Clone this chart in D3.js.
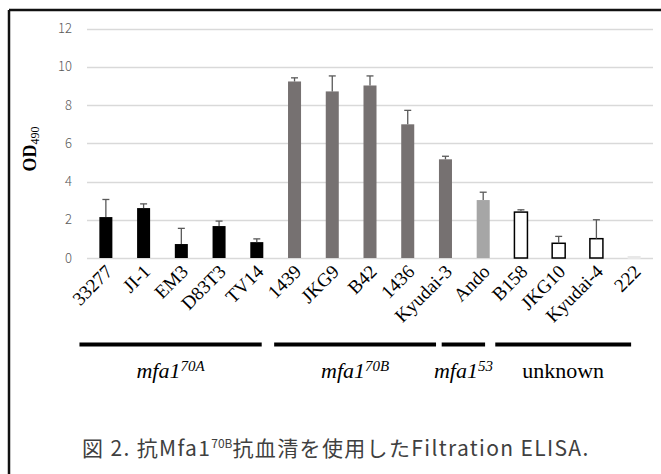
<!DOCTYPE html>
<html>
<head>
<meta charset="utf-8">
<title>Filtration ELISA</title>
<script src="https://d3js.org/d3.v7.min.js"></script>
<style>
  body { margin: 0; background: white; }
  svg { display: block; }
</style>
</head>
<body>
<div id="chart"></div>
<script>
// strains and readings (OD490)
var strains = ["33277", "JI-1", "EM3", "D83T3", "TV14", "1439", "JKG9", "B42", "1436",
               "Kyudai-3", "Ando", "B158", "JKG10", "Kyudai-4", "222"];
var odMean = [2.14, 2.61, 0.73, 1.67, 0.83, 9.23, 8.71, 9.02, 6.99, 5.16, 3.03, 2.40, 0.77, 1.01, 0.03];
var odErr  = [0.92, 0.22, 0.82, 0.26, 0.17, 0.19, 0.81, 0.50, 0.73, 0.16, 0.41, 0.12, 0.36, 0.99, 0];
var genotype = ["70A", "70A", "70A", "70A", "70A", "70B", "70B", "70B", "70B", "70B",
                "53", "unk", "unk", "unk", "unk"];
var yTicks = [0, 2, 4, 6, 8, 10, 12];

// genotype brackets under the labels, in category units
var groupLabel = ["70A", "70B", "53", "unknown"];
var groupStart = [-0.2, 4.96, 9.4, 10.82];
var groupEnd   = [4.63, 9.25, 10.55, 14.42];

var W = 661, H = 474;
var svg = d3.select("#chart").append("svg").attr("width", W).attr("height", H);

// frame
svg.append("line").attr("x1", 9).attr("x2", W).attr("y1", 10).attr("y2", 10)
   .attr("stroke", "#111").attr("stroke-width", 2.5);
svg.append("line").attr("x1", 9).attr("x2", 9).attr("y1", 10).attr("y2", H)
   .attr("stroke", "#111").attr("stroke-width", 2.5);

var x = d3.scaleBand().domain(strains).range([87, 653]).paddingInner(0.655).paddingOuter(0.3275);
var y = d3.scaleLinear().domain([0, 12]).range([258, 28.5]);
var xi = d3.scaleLinear().domain([0, strains.length]).range([87, 653]);

// gridlines + tick labels
svg.append("g").selectAll("line").data(yTicks).enter().append("line")
   .attr("x1", 87).attr("x2", 653)
   .attr("y1", function(d){ return Math.round(y(d)) + 0.5; })
   .attr("y2", function(d){ return Math.round(y(d)) + 0.5; })
   .attr("stroke", "#d9d9d9").attr("stroke-width", 1.3);
svg.append("g").selectAll("text").data(yTicks).enter().append("text")
   .attr("x", 72).attr("y", function(d){ return y(d); })
   .attr("dy", "0.35em").attr("text-anchor", "end")
   .attr("font-family", "'Noto Sans CJK JP', 'Noto Sans', sans-serif")
   .attr("font-size", 13).attr("fill", "#595959").attr("font-weight", 300)
   .text(function(d){ return d; });

var fillOf = { "70A": "#000000", "70B": "#767171", "53": "#a6a6a6", "unk": "#ffffff" };

// bars
svg.append("g").selectAll("rect").data(strains).enter().append("rect")
   .attr("x", function(d){ return x(d); })
   .attr("width", x.bandwidth())
   .attr("y", function(d, i){ return y(odMean[i]); })
   .attr("height", function(d, i){ return y(0) - y(odMean[i]); })
   .attr("fill", function(d, i){ return fillOf[genotype[i]]; })
   .attr("stroke", function(d, i){ return genotype[i] == "unk" && odMean[i] > 0.1 ? "#000" : "none"; })
   .attr("stroke-width", 1.5);
// the near-zero bar shows up as a faint smudge
svg.append("g").selectAll("rect").data(strains.filter(function(d, i){ return odMean[i] <= 0.1; }))
   .enter().append("rect")
   .attr("x", function(d){ return x(d); }).attr("width", x.bandwidth())
   .attr("y", y(0) - 2).attr("height", 3).attr("fill", "#e8e8e8");

// error bars (upper only)
var eb = svg.append("g").attr("stroke", "#595959").attr("stroke-width", 1.3);
strains.forEach(function(s, i){
   if (!odErr[i]) return;
   var cx = x(s) + x.bandwidth() / 2;
   eb.append("line").attr("x1", cx).attr("x2", cx)
     .attr("y1", y(odMean[i])).attr("y2", y(odMean[i] + odErr[i]));
   eb.append("line").attr("x1", cx - 3.5).attr("x2", cx + 3.5)
     .attr("y1", y(odMean[i] + odErr[i])).attr("y2", y(odMean[i] + odErr[i]));
});

// rotated category labels
svg.append("g").selectAll("text").data(strains).enter().append("text")
   .attr("transform", function(d){
      return "translate(" + (x(d) + x.bandwidth() / 2 - 1) + ",264) rotate(-45)";
   })
   .attr("text-anchor", "end").attr("dy", "0.66em")
   .attr("font-family", "'Liberation Serif', 'Times New Roman', serif")
   .attr("font-size", 19).attr("fill", "#000")
   .text(function(d){ return d; });

// y title
var yt = svg.append("text").attr("transform", "translate(36,149) rotate(-90)")
   .attr("text-anchor", "middle")
   .attr("font-family", "'Liberation Serif', 'Times New Roman', serif")
   .attr("font-size", 18).attr("font-weight", "bold");
yt.append("tspan").text("OD");
yt.append("tspan").attr("font-size", 12).attr("font-weight", "normal").attr("dy", 3).text("490");

// group brackets
svg.append("g").selectAll("line").data(groupLabel).enter().append("line")
   .attr("x1", function(d, i){ return xi(groupStart[i]); })
   .attr("x2", function(d, i){ return xi(groupEnd[i]); })
   .attr("y1", 344.5).attr("y2", 344.5)
   .attr("stroke", "#000").attr("stroke-width", 4);

var gl = svg.append("g").selectAll("text").data(groupLabel).enter().append("text")
   .attr("x", function(d, i){ return (xi(groupStart[i]) + xi(groupEnd[i])) / 2; })
   .attr("y", 378).attr("text-anchor", "middle")
   .attr("font-family", "'Liberation Serif', 'Times New Roman', serif")
   .attr("font-size", 22).attr("fill", "#000");
gl.each(function(d){
   var t = d3.select(this);
   if (d == "unknown") { t.text("unknown"); return; }
   t.append("tspan").attr("font-style", "italic").text("mfa1");
   t.append("tspan").attr("font-style", "italic").attr("font-size", 15).attr("dy", -7).text(d);
});

// caption
var cap = svg.append("text").attr("x", 82).attr("y", 456)
   .attr("font-family", "'Noto Sans CJK JP', sans-serif")
   .attr("font-size", 21).attr("letter-spacing", 1.35).attr("fill", "#404040");
cap.append("tspan").text("図 2. 抗Mfa1");
cap.append("tspan").attr("font-size", 12).attr("letter-spacing", 0).attr("dy", -8).text("70B");
cap.append("tspan").attr("dy", 8).text("抗血清を使用したFiltration ELISA.");
</script>
</body>
</html>
